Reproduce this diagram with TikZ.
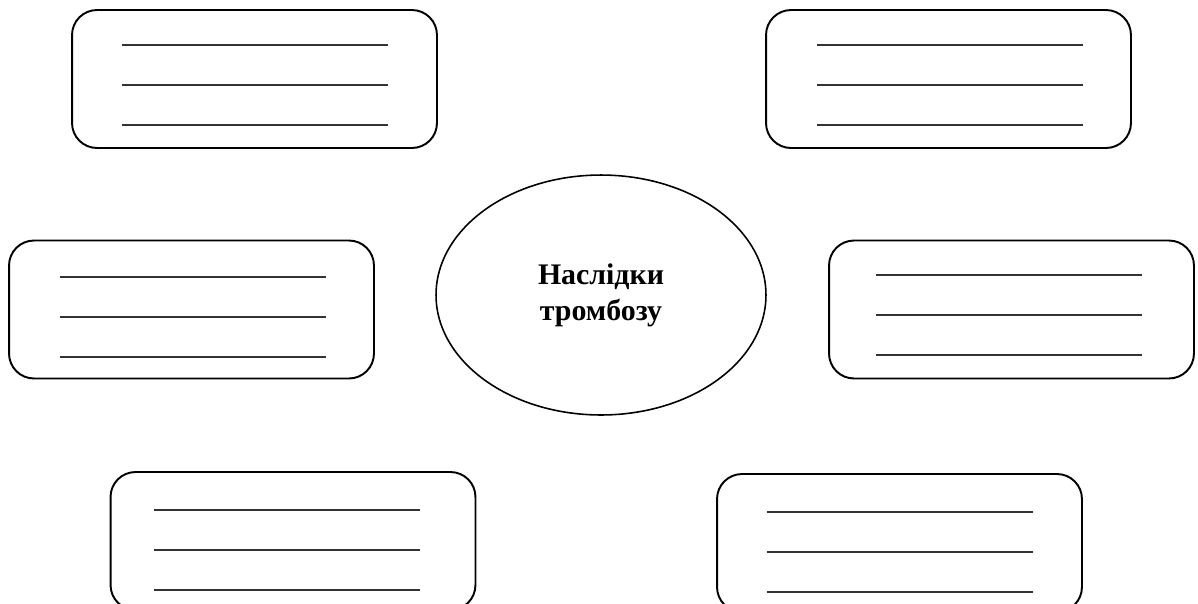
\documentclass[tikz,border=0pt]{standalone}
\usepackage{fontspec}
\setmainfont{Liberation Serif}
\usetikzlibrary{shapes.geometric,calc}
\tikzset{
  card/.style={draw,rounded corners=0.5cm,line width=1.1pt,minimum width=7.3cm,minimum height=2.76cm,inner sep=0pt},
  rule/.style={line width=1.1pt,draw=black!80},
  hub/.style={draw,ellipse,line width=0.9pt,minimum width=6.6cm,minimum height=4.8cm,align=center,font=\bfseries\fontsize{17}{20.5}\selectfont}
}
\begin{document}
\begin{tikzpicture}[x=0.02cm,y=-0.02cm]
  \useasboundingbox (0,0) rectangle (1198,603);
  \clip (0,0) rectangle (1198,603);
  \node[hub] (hub) at (601,295) {Наслідки\\тромбозу};
  % six cards with blank lines to fill in
  \node[card] (tl) at (254.5,79) {};
  \node[card] (tr) at (948.5,79) {};
  \node[card] (ml) at (191.5,309.5) {};
  \node[card] (mr) at (1011.5,309.5) {};
  \node[card] (bl) at (293,541) {};
  \node[card] (br) at (899.5,543) {};
  \foreach \c/\sx/\sy in {tl/0/0,tr/1/0,ml/1/1.5,mr/-3/-0.5,bl/-6/3,br/0/3}
    \foreach \dy in {-34,6,46}
      \draw[rule] ($(\c.center)+(-133+\sx,\dy+\sy)$) -- ($(\c.center)+(133+\sx,\dy+\sy)$);
\end{tikzpicture}
\end{document}
